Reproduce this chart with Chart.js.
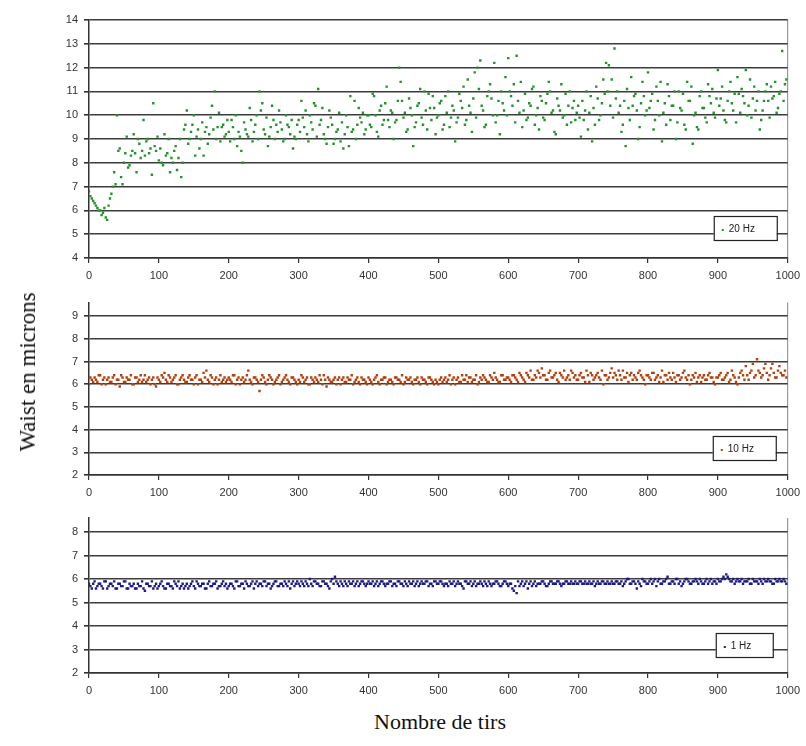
<!DOCTYPE html>
<html>
<head>
<meta charset="utf-8">
<script src="https://cdn.jsdelivr.net/npm/chart.js@4.4.0/dist/chart.umd.min.js"></script>
<style>
  body { margin: 0; background: #fff; width: 806px; height: 746px; position: relative; overflow: hidden; }
  canvas { position: absolute; left: 0; }
  .ytitle { position: absolute; left: 28px; top: 372px; transform: translate(-50%, -50%) rotate(-90deg);
            font-family: "Liberation Serif", serif; font-size: 23px; color: #111; white-space: nowrap; }
  .xtitle { position: absolute; left: 440px; top: 722px; transform: translate(-50%, -50%);
            font-family: "Liberation Serif", serif; font-size: 22px; color: #111; white-space: nowrap; }
</style>
</head>
<body>
<canvas id="c20" style="top:0px" width="806" height="290"></canvas>
<canvas id="c10" style="top:290px" width="806" height="217"></canvas>
<canvas id="c1" style="top:505px" width="806" height="200"></canvas>
<div class="ytitle">Waist en microns</div>
<div class="xtitle">Nombre de tirs</div>
<script>
// "A" arrays: shots 0, 4, 8 ... ; "B" arrays: shots 2, 6, 10 ...
const shotStep = 4;
const xTicks = [0, 100, 200, 300, 400, 500, 600, 700, 800, 900, 1000];

const waist20HzA = [
  6.8, 6.5, 6.3, 6.1, 6.0, 5.9, 5.7, 6.2, 6.7, 7.6, 10.0, 8.6, 7.1, 8.4, 7.8, 8.3, 9.2, 7.6, 8.8, 8.5, 8.3, 9.0, 8.6, 10.5, 8.5,
  8.1, 8.0, 9.2, 8.4, 7.6, 8.0, 8.7, 8.2, 7.4, 9.4, 10.2, 9.0, 9.6, 8.3, 9.4, 9.0, 8.3, 9.5, 9.2, 10.4, 11.0, 9.5, 8.9, 9.6, 9.2,
  9.3, 9.8, 9.0, 8.7, 9.1, 8.0, 9.4, 9.1, 9.8, 9.3, 10.0, 11.0, 10.5, 9.2, 8.7, 9.5, 9.8, 9.6, 10.2, 9.4, 9.0, 9.6, 9.2, 8.6, 9.0,
  9.8, 10.6, 9.5, 9.2, 10.0, 9.4, 10.4, 11.1, 9.8, 9.2, 8.8, 10.2, 9.6, 9.0, 9.4, 8.9, 8.6, 10.0, 8.7, 9.3, 10.6, 9.6, 9.9, 10.1, 9.4,
  10.0, 9.5, 10.8, 9.3, 10.2, 9.6, 10.5, 9.8, 10.2, 9.0, 9.8, 12.0, 10.6, 10.1, 9.4, 10.3, 8.7, 9.7, 10.5, 9.9, 11.0, 9.4, 10.3, 10.8, 9.2,
  10.0, 10.6, 9.6, 10.1, 9.5, 10.4, 8.9, 9.9, 10.6, 11.2, 9.8, 10.4, 9.3, 11.8, 12.0, 12.3, 10.2, 9.6, 11.0, 10.7, 12.2, 10.0, 9.2, 10.5, 11.6,
  12.4, 10.8, 11.3, 12.5, 10.1, 9.5, 10.9, 9.9, 10.4, 11.2, 10.0, 9.4, 10.6, 9.8, 10.9, 11.0, 10.2, 9.2, 10.4, 11.3, 10.0, 9.6, 11.0, 10.3, 9.8,
  10.4, 9.1, 9.8, 11.0, 10.1, 8.9, 9.6, 10.7, 10.0, 11.5, 12.2, 12.1, 11.5, 12.8, 11.0, 10.4, 9.6, 8.7, 10.3, 11.6, 10.8, 10.2, 9.5, 11.4, 10.0,
  11.8, 10.6, 9.4, 11.2, 10.0, 8.9, 10.5, 11.3, 9.8, 10.4, 9.0, 11.0, 10.2, 9.6, 11.4, 10.6, 8.8, 10.1, 9.4, 11.0, 10.3, 9.7, 10.8, 11.1, 9.9,
  11.9, 10.7, 10.2, 9.7, 11.0, 10.5, 10.9, 11.6, 10.1, 10.8, 11.9, 10.4, 9.9, 11.2, 10.6, 9.4, 10.2, 11.0, 10.6, 11.2, 10.8, 10.1, 10.9, 12.7, 11.3
];
const waist20HzB = [
  6.6, 6.4, 6.2, 6.0, 5.8, 6.1, 5.6, 6.5, 7.0, 7.1, 8.5, 7.4, 8.0, 9.1, 7.9, 8.5, 8.4, 9.0, 8.2, 9.8, 8.9, 8.4, 7.5, 8.7, 9.1,
  8.6, 7.9, 8.3, 9.0, 8.2, 8.5, 7.7, 9.0, 8.0, 9.6, 8.8, 9.3, 10.0, 9.1, 8.6, 9.7, 9.3, 8.8, 9.9, 9.4, 9.0, 10.1, 9.5, 9.1, 9.8,
  8.9, 9.5, 10.0, 9.3, 8.5, 9.7, 9.2, 10.3, 8.9, 9.6, 9.0, 10.2, 9.4, 9.9, 9.1, 10.4, 9.0, 9.3, 9.7, 8.9, 10.0, 9.5, 9.8, 9.1, 9.6,
  9.3, 9.9, 10.2, 8.9, 9.7, 10.5, 9.1, 9.6, 10.3, 9.0, 9.5, 9.9, 8.8, 9.3, 10.1, 9.7, 9.2, 9.5, 10.8, 9.4, 9.0, 10.3, 9.7, 9.2, 10.0,
  9.6, 10.9, 10.0, 9.1, 10.4, 9.8, 11.2, 9.5, 10.1, 9.7, 10.6, 11.4, 9.9, 9.3, 10.7, 10.0, 9.5, 10.4, 11.1, 9.6, 10.2, 10.9, 9.8, 10.3, 9.9,
  10.5, 9.4, 10.8, 11.0, 9.9, 10.2, 9.7, 10.9, 10.3, 9.6, 11.5, 10.1, 10.7, 9.9, 11.1, 10.4, 9.5, 10.8, 11.3, 10.0, 9.7, 10.6, 11.0, 10.2, 10.0,
  11.0, 10.4, 9.7, 10.6, 11.4, 10.2, 9.8, 10.5, 11.1, 9.6, 10.3, 10.8, 9.9, 10.5, 11.4, 10.1, 9.3, 10.7, 10.2, 9.9, 10.9, 10.4, 9.7, 10.6, 10.1,
  9.9, 10.6, 10.2, 9.4, 10.8, 10.3, 11.2, 9.8, 10.5, 10.9, 11.0, 10.4, 9.9, 10.7, 10.1, 9.3, 10.6, 11.1, 9.8, 10.4, 10.9, 9.0, 10.5, 10.8, 10.2,
  10.3, 10.9, 9.8, 10.6, 11.4, 10.1, 9.6, 10.8, 10.4, 11.0, 9.7, 10.3, 10.9, 9.4, 10.6, 11.2, 10.0, 9.5, 10.8, 10.3, 9.9, 11.3, 10.5, 10.1, 10.7,
  10.4, 11.2, 9.8, 10.6, 11.4, 10.2, 9.7, 10.9, 11.1, 10.5, 10.0, 11.5, 10.7, 10.2, 11.0, 9.8, 10.6, 11.3, 9.9, 10.7, 11.4, 10.3, 11.0, 10.6, 11.5
];

const waist10HzA = [
  6.0, 6.2, 6.3, 6.1, 6.4, 6.2, 6.0, 6.3, 6.1, 6.4, 6.2, 5.9, 6.3, 6.1, 6.2, 6.4, 6.0, 6.3, 6.2, 6.1, 6.4, 6.2, 6.0, 6.3, 5.9,
  6.2, 6.4, 6.5, 6.1, 6.3, 6.2, 6.4, 6.0, 6.3, 6.2, 6.1, 6.4, 6.2, 6.3, 6.0, 6.2, 6.5, 6.6, 6.1, 6.3, 6.2, 6.0, 6.4, 6.2, 6.1,
  6.3, 6.1, 6.4, 6.2, 6.0, 6.3, 6.2, 6.6, 6.1, 6.3, 6.2, 5.7, 6.4, 6.1, 6.2, 6.3, 6.0, 6.2, 6.4, 6.1, 6.3, 6.2, 6.0, 6.3, 6.1,
  6.2, 6.4, 6.1, 6.3, 6.0, 6.2, 6.3, 6.1, 6.2, 6.4, 5.9, 6.2, 6.1, 6.3, 6.2, 6.0, 6.3, 6.1, 6.2, 6.4, 6.1, 6.3, 6.0, 6.2, 6.1,
  6.3, 6.1, 6.2, 6.4, 6.0, 6.2, 6.3, 6.1, 6.2, 6.0, 6.3, 6.2, 6.4, 6.1, 6.2, 6.3, 6.0, 6.2, 6.1, 6.3, 6.2, 6.0, 6.3, 6.1, 6.2,
  6.0, 6.3, 6.2, 6.1, 6.4, 6.2, 6.0, 6.3, 6.1, 6.2, 6.4, 6.3, 6.1, 6.2, 6.0, 6.3, 6.4, 6.2, 6.1, 6.3, 6.5, 6.2, 6.1, 6.4, 6.2,
  6.3, 6.1, 6.4, 6.2, 6.5, 6.3, 6.1, 6.4, 6.6, 6.2, 6.3, 6.5, 6.7, 6.4, 6.2, 6.6, 6.3, 6.5, 6.1, 6.4, 6.6, 6.3, 6.2, 6.5, 6.4,
  6.2, 6.5, 6.3, 6.6, 6.1, 6.4, 6.3, 6.5, 6.2, 6.0, 6.4, 6.3, 6.7, 6.5, 6.2, 6.4, 6.6, 6.3, 6.1, 6.5, 6.4, 6.2, 6.6, 6.3, 6.0,
  6.4, 6.2, 6.5, 6.3, 6.1, 6.6, 6.4, 6.2, 6.3, 6.5, 6.1, 6.4, 6.3, 6.6, 6.2, 6.0, 6.4, 6.5, 6.3, 6.1, 6.4, 6.2, 6.5, 6.3, 6.0,
  6.3, 6.5, 6.2, 6.4, 6.1, 6.6, 6.3, 6.0, 6.5, 6.4, 6.8, 6.2, 6.6, 6.3, 7.1, 6.5, 6.4, 6.9, 6.2, 6.7, 6.5, 6.3, 6.8, 6.4, 6.6
];
const waist10HzB = [
  6.3, 6.1, 6.2, 6.4, 6.0, 6.3, 6.2, 6.1, 6.3, 6.0, 6.2, 6.4, 6.1, 6.3, 6.2, 6.0, 6.3, 6.1, 6.4, 6.2, 6.1, 6.3, 6.2, 6.0, 6.3,
  6.1, 6.3, 6.2, 6.4, 6.1, 6.3, 6.0, 6.2, 6.4, 6.1, 6.3, 6.2, 6.0, 6.4, 6.2, 6.1, 6.3, 6.2, 6.4, 6.0, 6.3, 6.2, 6.1, 6.3, 6.2,
  6.2, 6.4, 6.0, 6.3, 6.2, 6.1, 6.4, 6.2, 6.0, 6.3, 6.1, 6.2, 6.3, 6.0, 6.4, 6.2, 6.1, 6.3, 6.0, 6.2, 6.4, 6.1, 6.3, 6.2, 6.0,
  6.1, 6.3, 6.2, 6.0, 6.3, 6.1, 6.2, 6.4, 6.0, 6.2, 6.3, 6.1, 6.2, 6.0, 6.3, 6.2, 6.1, 6.3, 6.2, 6.0, 6.2, 6.1, 6.3, 6.2, 6.0,
  6.2, 6.0, 6.3, 6.1, 6.2, 6.3, 6.0, 6.2, 6.1, 6.3, 6.2, 6.1, 6.0, 6.3, 6.2, 6.1, 6.2, 6.3, 6.0, 6.2, 6.1, 6.3, 6.2, 6.0, 6.1,
  6.2, 6.1, 6.3, 6.2, 6.0, 6.3, 6.2, 6.1, 6.4, 6.2, 6.1, 6.3, 6.2, 6.4, 6.1, 6.2, 6.3, 6.1, 6.4, 6.2, 6.3, 6.1, 6.4, 6.2, 6.3,
  6.2, 6.4, 6.3, 6.1, 6.4, 6.2, 6.5, 6.3, 6.2, 6.4, 6.6, 6.3, 6.4, 6.2, 6.5, 6.3, 6.4, 6.2, 6.5, 6.3, 6.2, 6.4, 6.6, 6.3, 6.2,
  6.4, 6.3, 6.1, 6.4, 6.5, 6.2, 6.4, 6.3, 6.6, 6.4, 6.2, 6.5, 6.3, 6.4, 6.6, 6.2, 6.3, 6.5, 6.4, 6.2, 6.3, 6.5, 6.4, 6.2, 6.4,
  6.3, 6.5, 6.2, 6.4, 6.3, 6.1, 6.4, 6.5, 6.2, 6.3, 6.4, 6.2, 6.5, 6.3, 6.4, 6.2, 6.3, 6.1, 6.4, 6.3, 6.2, 6.4, 6.3, 6.1, 6.3,
  6.4, 6.2, 6.3, 6.5, 6.2, 6.4, 6.1, 6.3, 6.6, 6.2, 6.4, 6.5, 6.9, 6.4, 6.6, 6.3, 6.7, 6.5, 6.4, 6.9, 6.3, 6.6, 6.5, 6.4, 6.3
];

const waist1HzA = [
  5.8, 5.6, 5.9, 5.7, 5.8, 5.6, 5.9, 5.7, 5.8, 5.9, 5.6, 5.8, 5.7, 5.9, 5.6, 5.7, 5.8, 5.6, 5.7, 5.9, 5.5, 5.8, 5.7, 5.6, 5.8,
  5.7, 5.9, 5.6, 5.8, 5.7, 5.6, 5.8, 5.9, 5.7, 5.6, 5.8, 5.7, 5.9, 5.6, 5.8, 5.7, 5.8, 5.6, 5.9, 5.7, 5.8, 5.6, 5.7, 5.9, 5.8,
  5.7, 5.8, 5.6, 5.9, 5.7, 5.8, 5.9, 5.7, 5.8, 5.6, 5.9, 5.8, 5.7, 5.9, 5.8, 5.6, 5.8, 5.9, 5.7, 5.8, 5.9, 5.7, 5.6, 5.9, 5.8,
  5.8, 5.9, 5.7, 5.8, 6.0, 5.7, 5.9, 5.8, 5.7, 5.9, 5.8, 5.6, 6.0, 6.1, 5.8, 5.9, 5.7, 5.8, 5.9, 5.8, 5.7, 5.9, 5.8, 5.9, 5.7,
  5.9, 5.8, 5.7, 5.9, 5.8, 5.9, 5.7, 5.8, 5.9, 5.8, 5.7, 5.9, 5.8, 5.9, 5.7, 5.8, 5.9, 5.8, 5.7, 5.9, 5.8, 5.9, 5.8, 5.7, 5.9,
  5.8, 5.9, 5.7, 5.8, 5.9, 5.8, 5.7, 5.9, 5.8, 5.6, 5.9, 5.8, 5.7, 5.9, 5.8, 5.9, 5.7, 5.8, 5.9, 5.7, 5.8, 5.9, 5.7, 5.8, 5.9,
  5.7, 5.8, 5.5, 5.4, 5.7, 5.9, 5.8, 5.6, 5.9, 5.8, 5.7, 5.8, 5.9, 5.8, 5.7, 5.9, 5.8, 5.8, 5.9, 5.7, 5.8, 5.9, 5.8, 5.8, 5.9,
  5.8, 5.9, 5.8, 5.8, 5.9, 5.8, 5.7, 5.9, 5.8, 5.9, 5.8, 5.8, 5.9, 5.8, 5.9, 5.8, 5.7, 5.9, 6.0, 5.8, 5.9, 5.6, 5.8, 6.0, 5.9,
  5.8, 6.0, 5.9, 5.7, 6.0, 5.8, 5.9, 6.1, 5.8, 5.9, 6.0, 5.8, 5.7, 5.9, 6.0, 5.8, 5.9, 6.0, 5.8, 5.9, 5.8, 6.0, 5.9, 5.8, 5.9,
  6.0, 5.9, 6.1, 6.2, 6.0, 5.9, 5.8, 6.0, 5.9, 5.8, 5.9, 6.0, 5.8, 5.9, 5.9, 6.0, 5.8, 5.9, 6.0, 5.9, 5.8, 5.9, 6.0, 5.9, 5.9
];
const waist1HzB = [
  5.7, 5.8, 5.6, 5.8, 5.7, 5.9, 5.6, 5.8, 5.7, 5.6, 5.8, 5.7, 5.9, 5.6, 5.8, 5.7, 5.6, 5.8, 5.7, 5.6, 5.8, 5.7, 5.9, 5.7, 5.6,
  5.8, 5.7, 5.6, 5.8, 5.7, 5.9, 5.7, 5.6, 5.8, 5.7, 5.6, 5.8, 5.7, 5.9, 5.7, 5.8, 5.6, 5.8, 5.7, 5.8, 5.9, 5.7, 5.8, 5.7, 5.6,
  5.8, 5.7, 5.9, 5.7, 5.8, 5.6, 5.8, 5.7, 5.9, 5.8, 5.7, 5.8, 5.9, 5.7, 5.8, 5.7, 5.9, 5.7, 5.8, 5.7, 5.8, 5.9, 5.8, 5.7, 5.9,
  5.7, 5.8, 5.9, 5.7, 5.8, 5.9, 5.8, 5.7, 5.9, 5.8, 5.7, 5.9, 5.8, 5.9, 5.7, 5.8, 5.9, 5.7, 5.8, 5.9, 5.8, 5.7, 5.9, 5.8, 5.8,
  5.8, 5.9, 5.8, 5.7, 5.9, 5.8, 5.8, 5.9, 5.7, 5.8, 5.9, 5.8, 5.7, 5.8, 5.9, 5.8, 5.7, 5.9, 5.8, 5.8, 5.9, 5.7, 5.8, 5.9, 5.8,
  5.9, 5.8, 5.8, 5.7, 5.8, 5.9, 5.8, 5.8, 5.7, 5.9, 5.8, 5.9, 5.8, 5.7, 5.8, 5.8, 5.9, 5.7, 5.8, 5.8, 5.9, 5.8, 5.7, 5.9, 5.8,
  5.8, 5.6, 5.7, 5.9, 5.8, 5.7, 5.9, 5.8, 5.7, 5.9, 5.8, 5.8, 5.9, 5.7, 5.8, 5.9, 5.8, 5.9, 5.8, 5.8, 5.9, 5.8, 5.9, 5.8, 5.8,
  5.9, 5.8, 5.9, 5.8, 5.8, 5.9, 5.8, 5.8, 5.9, 5.8, 5.9, 5.8, 5.8, 5.9, 5.8, 5.9, 5.8, 6.0, 5.8, 5.9, 5.8, 5.9, 5.7, 5.9, 5.8,
  5.9, 5.8, 6.0, 5.9, 5.8, 5.9, 6.0, 5.8, 5.9, 5.8, 6.0, 5.9, 5.8, 6.0, 5.9, 5.8, 5.9, 5.9, 6.0, 5.8, 5.9, 5.8, 6.0, 5.9, 5.8,
  5.9, 6.0, 6.0, 6.1, 5.9, 6.0, 5.9, 5.9, 6.0, 5.9, 5.9, 5.8, 6.0, 5.9, 5.8, 5.9, 6.0, 5.9, 5.9, 5.8, 6.0, 5.9, 5.9, 6.0, 5.8
];

// little boxed legend in the lower right corner of each panel
const boxLegend = {
  id: "boxLegend",
  afterDraw(chart, args, opts) {
    const ctx = chart.ctx;
    const a = chart.chartArea;
    const w = opts.width, h = 24;
    const x = a.right - opts.right - w;
    const y = a.bottom - opts.bottom - h;
    ctx.save();
    ctx.fillStyle = "#fff";
    ctx.fillRect(x, y, w, h);
    ctx.strokeStyle = "#222";
    ctx.lineWidth = 1.2;
    ctx.strokeRect(x + 0.5, y + 0.5, w, h);
    ctx.fillStyle = opts.color;
    ctx.fillRect(x + 8, y + 13, 2, 2);
    ctx.fillStyle = "#222";
    ctx.font = "10px 'Liberation Sans', Arial, sans-serif";
    ctx.textBaseline = "middle";
    ctx.fillText(chart.data.datasets[0].label, x + 15, y + h / 2 + 1);
    ctx.restore();
  }
};

function toPoints(values, offset) {
  return values.map((v, i) => ({ x: i * shotStep + offset, y: v }));
}

function drawPanel(id, label, valuesA, valuesB, color, yMin, yMax, topPad, legendOpts) {
  const ctx = document.getElementById(id).getContext("2d");
  const style = { backgroundColor: color, borderColor: color, pointStyle: "rect", pointRadius: 1.7, borderWidth: 0 };
  new Chart(ctx, {
    type: "scatter",
    data: {
      datasets: [
        Object.assign({ label: label, data: toPoints(valuesA, 0) }, style),
        Object.assign({ label: label, data: toPoints(valuesB, shotStep / 2) }, style)
      ]
    },
    options: {
      responsive: false,
      animation: false,
      layout: { padding: { top: topPad, right: 16, left: 0, bottom: 0 } },
      plugins: { legend: { display: false }, tooltip: { enabled: false }, boxLegend: legendOpts },
      scales: {
        x: {
          type: "linear", min: 0, max: 1000,
          afterBuildTicks: (s) => { s.ticks = xTicks.map(v => ({ value: v })); },
          afterFit: (s) => { s.height = 32; },
          grid: {
            color: (c) => (c.tick && c.tick.value === 1000 ? "#9a9a9a" : "rgba(0,0,0,0)"),
            tickColor: "#333", tickLength: 5, lineWidth: 1.2
          },
          border: { color: "#333", width: 1.5 },
          ticks: {
            color: "#333", padding: 6, maxRotation: 0,
            callback: (v) => String(v),
            font: { family: "'Liberation Sans', Arial", size: 11 }
          }
        },
        y: {
          min: yMin, max: yMax,
          afterBuildTicks: (s) => {
            const t = [];
            for (let v = yMin; v <= yMax; v++) t.push({ value: v });
            s.ticks = t;
          },
          afterFit: (s) => { s.width = 89; },
          grid: { color: "#3c3c3c", tickColor: "#333", lineWidth: 1.6, tickLength: 5 },
          border: { color: "#333", width: 1.5 },
          ticks: { color: "#333", padding: 6, callback: (v) => String(v), font: { family: "'Liberation Sans', Arial", size: 11 } }
        }
      }
    },
    plugins: [boxLegend]
  });
}

drawPanel("c20", "20 Hz", waist20HzA, waist20HzB, "#23922a", 4, 14, 20, { width: 63, right: 11, bottom: 18, color: "#23922a" });
drawPanel("c10", "10 Hz", waist10HzA, waist10HzB, "#b4400f", 2, 9.6, 7, { width: 63, right: 12, bottom: 15, color: "#b4400f" });
drawPanel("c1", "1 Hz", waist1HzA, waist1HzB, "#1c1c86", 2, 8.6, 13, { width: 57, right: 15, bottom: 16, color: "#1c1c86" });
</script>
</body>
</html>
